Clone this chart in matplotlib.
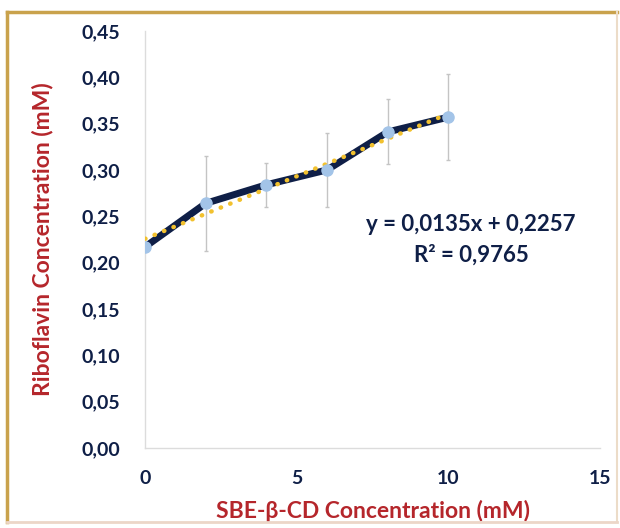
import matplotlib.pyplot as plt
from matplotlib.lines import Line2D
from matplotlib.ticker import FuncFormatter, MultipleLocator

# SBE-beta-CD concentration (mM) and measured riboflavin solubility (mM)
sbe_conc = [0, 2, 4, 6, 8, 10]
ribo_conc = [0.217, 0.264, 0.284, 0.300, 0.341, 0.357]
ribo_err = [0.0, 0.051, 0.024, 0.040, 0.035, 0.046]

# linear trend line reported on the chart
slope = 0.0135
intercept = 0.2257
r2 = 0.9765

navy = "#0f1f47"
dark_red = "#b5262b"
gold = "#c9a24c"

plt.rcParams["font.family"] = ["Lato", "DejaVu Sans"]
plt.rcParams["font.weight"] = "bold"

fig = plt.figure(figsize=(6.2, 5.28), dpi=100)
ax = fig.add_axes([0.234, 0.1515, 0.734, 0.79])

# measured points with error bars
ax.errorbar(sbe_conc, ribo_conc, yerr=ribo_err, fmt="none", ecolor="#c4c4c4",
            elinewidth=1, capsize=1.5, zorder=1)
ax.plot(sbe_conc, ribo_conc, color=navy, lw=5, solid_capstyle="round",
        solid_joinstyle="round", zorder=2)

# trend line
xt = [sbe_conc[0], sbe_conc[-1]]
yt = [slope * x + intercept for x in xt]
ax.plot(xt, yt, color="#f2c12e", lw=3.2, ls=(0, (0.1, 2.2)),
        dash_capstyle="round", zorder=3)

ax.plot(sbe_conc, ribo_conc, "o", ms=8, color="#a3c4e8", mec="#a3c4e8", zorder=4)

eq = f"y = {slope:.4f}x + {intercept:.4f}".replace(".", ",")
ax.text(10.75, 0.2406, eq, ha="center", va="center", fontsize=16, color=navy,
        fontweight="bold")
ax.text(10.75, 0.2083, f"R² = {r2:.4f}".replace(".", ","), ha="center",
        va="center", fontsize=16, color=navy, fontweight="bold")

ax.set_xlim(0, 15)
ax.set_ylim(0, 0.45)
ax.xaxis.set_major_locator(MultipleLocator(5))
ax.yaxis.set_major_locator(MultipleLocator(0.05))
ax.yaxis.set_major_formatter(FuncFormatter(lambda v, p: f"{v:.2f}".replace(".", ",")))
ax.tick_params(length=0, labelsize=14, labelcolor=navy)
ax.tick_params(axis="y", pad=18)
ax.tick_params(axis="x", pad=16)

for s in ["top", "right"]:
    ax.spines[s].set_visible(False)
for s in ["left", "bottom"]:
    ax.spines[s].set_color("#dcdcdc")
    ax.spines[s].set_linewidth(1)

ax.set_xlabel("SBE-β-CD Concentration (mM)", fontsize=16.5, color=dark_red,
              fontweight="bold")
ax.set_ylabel("Riboflavin Concentration (mM)", fontsize=16.5, color=dark_red,
              fontweight="bold")
ax.xaxis.set_label_coords(0.5, -0.125)
ax.yaxis.set_label_coords(-0.202, 0.5)

# gold frame around the figure
W, H = 620, 528
fig.add_artist(Line2D([7 / W, 617 / W], [1 - 12 / H, 1 - 12 / H], color=gold, lw=2.5))
fig.add_artist(Line2D([7 / W, 7 / W], [1 - 12 / H, 1 - 522 / H], color=gold, lw=2.5))
fig.add_artist(Line2D([617 / W, 617 / W], [1 - 12 / H, 1 - 522 / H], color="#ecdcc8", lw=1.5))
fig.add_artist(Line2D([7 / W, 617 / W], [1 - 522 / H, 1 - 522 / H], color="#ecd6c8", lw=2))

fig.savefig("out.png", dpi=100)
